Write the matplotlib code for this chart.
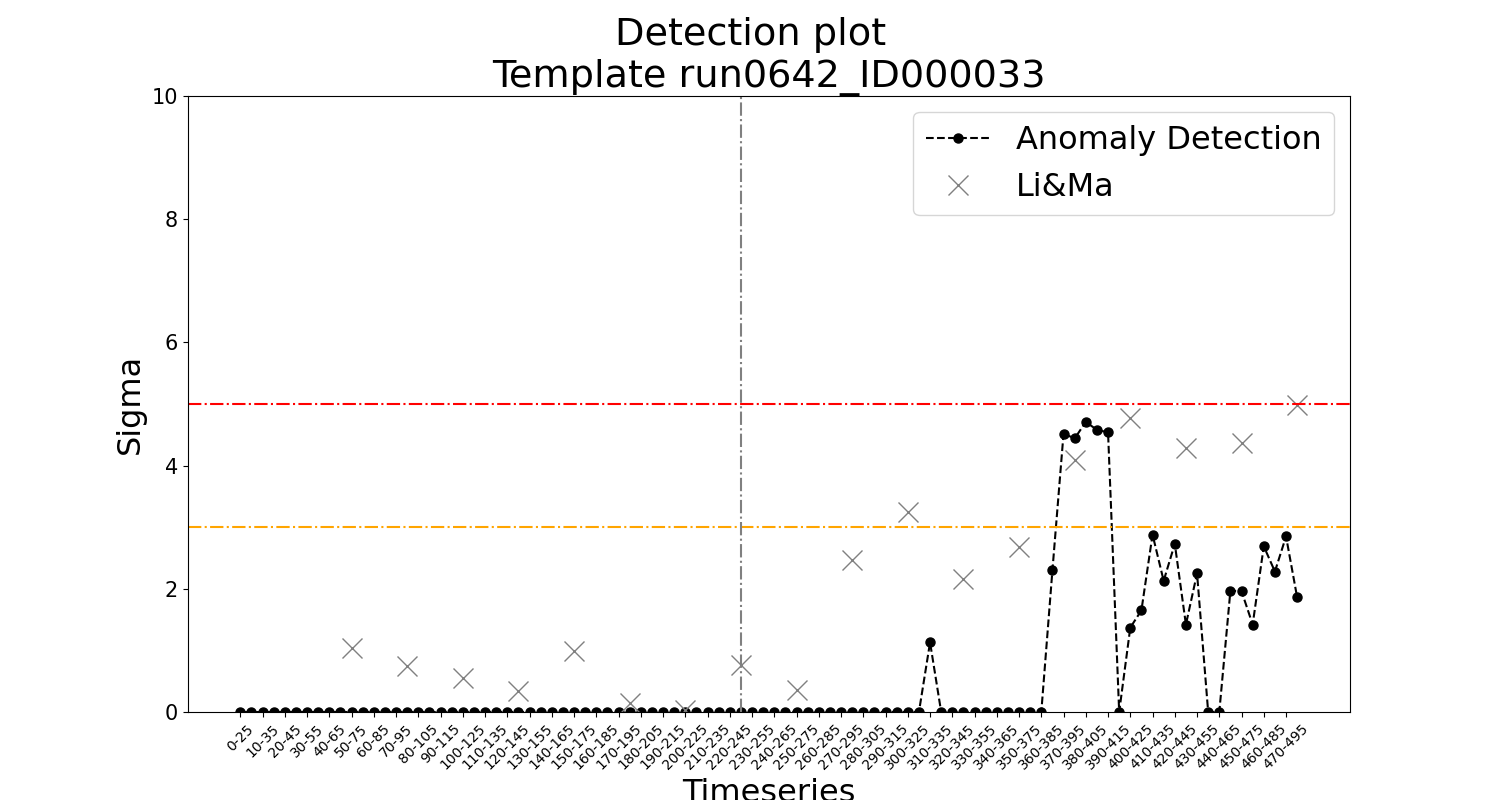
import matplotlib
matplotlib.use("Agg")
import matplotlib.pyplot as plt
import numpy as np

# time windows (every 5 s step, 25 s wide)
windows = [
    "0-25", "5-30", "10-35", "15-40", "20-45", "25-50", "30-55", "35-60",
    "40-65", "45-70", "50-75", "55-80", "60-85", "65-90", "70-95", "75-100",
    "80-105", "85-110", "90-115", "95-120", "100-125", "105-130", "110-135", "115-140",
    "120-145", "125-150", "130-155", "135-160", "140-165", "145-170", "150-175", "155-180",
    "160-185", "165-190", "170-195", "175-200", "180-205", "185-210", "190-215", "195-220",
    "200-225", "205-230", "210-235", "215-240", "220-245", "225-250", "230-255", "235-260",
    "240-265", "245-270", "250-275", "255-280", "260-285", "265-290", "270-295", "275-300",
    "280-305", "285-310", "290-315", "295-320", "300-325", "305-330", "310-335", "315-340",
    "320-345", "325-350", "330-355", "335-360", "340-365", "345-370", "350-375", "355-380",
    "360-385", "365-390", "370-395", "375-400", "380-405", "385-410", "390-415", "395-420",
    "400-425", "405-430", "410-435", "415-440", "420-445", "425-450", "430-455", "435-460",
    "440-465", "445-470", "450-475", "455-480", "460-485", "465-490", "470-495", "475-500",
]

anomaly_sigma = [
    0, 0, 0, 0, 0, 0, 0, 0, 0, 0, 0, 0, 0, 0, 0, 0,
    0, 0, 0, 0, 0, 0, 0, 0, 0, 0, 0, 0, 0, 0, 0, 0,
    0, 0, 0, 0, 0, 0, 0, 0, 0, 0, 0, 0, 0, 0, 0, 0,
    0, 0, 0, 0, 0, 0, 0, 0, 0, 0, 0, 0, 0, 0, 1.13, 0,
    0, 0, 0, 0, 0, 0, 0, 0, 0, 2.30, 4.52, 4.44, 4.71, 4.58, 4.54, 0,
    1.37, 1.65, 2.88, 2.13, 2.73, 1.42, 2.25, 0, 0, 1.97, 1.96, 1.42, 2.69, 2.28, 2.85, 1.86,
]

lima_windows = [
    "50-75", "75-100", "100-125", "125-150", "150-175", "175-200",
    "200-225", "225-250", "250-275", "275-300", "300-325", "325-350",
    "350-375", "375-400", "400-425", "425-450", "450-475", "475-500",
]
lima_sigma = [
    1.04, 0.75, 0.55, 0.34, 0.99, 0.14,
    0.03, 0.77, 0.35, 2.46, 3.24, 2.16,
    2.68, 4.09, 4.78, 4.29, 4.36, 4.99,
]

trigger_window = "225-250"
threshold_5sigma = 5
threshold_3sigma = 3

x = np.arange(len(windows))
x_lima = [windows.index(w) for w in lima_windows]

fig = plt.figure(figsize=(15, 8), dpi=100)
ax = plt.gca()

ax.plot(x, anomaly_sigma, linestyle="--", marker="o", color="black", markersize=6.5, label="Anomaly Detection")
ax.plot(x_lima, lima_sigma, linestyle="none", marker="x", color="grey", markersize=14, label="Li&Ma")
ax.axhline(threshold_5sigma, color="red", linestyle="-.")
ax.axhline(threshold_3sigma, color="orange", linestyle="-.")
ax.axvline(windows.index(trigger_window), color="grey", linestyle="-.")

ax.set_ylim(0, 10)
ax.set_xticks(x[::2])
ax.set_xticklabels(windows[::2], rotation=45, fontsize=10)
ax.tick_params(axis="y", labelsize=15)

# trailing spaces keep the first line a bit left of centre, as in the original
plt.title("Detection plot   \nTemplate run0642_ID000033", fontsize=27.5)
plt.xlabel("Timeseries", fontsize=23)
plt.ylabel("Sigma", fontsize=23)
plt.legend(loc="upper right", fontsize=23)

plt.savefig("out.png")
